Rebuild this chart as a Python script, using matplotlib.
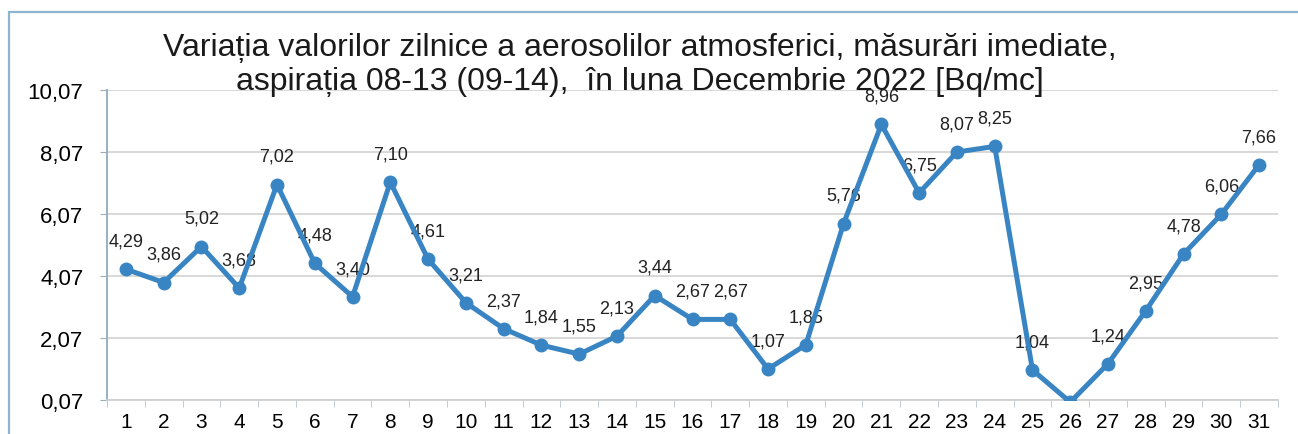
import matplotlib.pyplot as plt
from matplotlib.patches import Rectangle

plt.rcParams['font.family'] = ['Liberation Sans', 'DejaVu Sans']

# daily values, December 2022 [Bq/mc]
days = list(range(1, 32))
values = [4.29, 3.86, 5.02, 3.68, 7.02, 4.48, 3.40, 7.10, 4.61, 3.21,
          2.37, 1.84, 1.55, 2.13, 3.44, 2.67, 2.67, 1.07, 1.85, 5.76,
          8.96, 6.75, 8.07, 8.25, 1.04, 0.00, 1.24, 2.95, 4.78, 6.06, 7.66]
yticks = [0.07, 2.07, 4.07, 6.07, 8.07, 10.07]
title1 = 'Variația valorilor zilnice a aerosolilor atmosferici, măsurări imediate,'
title2 = 'aspirația 08-13 (09-14),  în luna Decembrie 2022 [Bq/mc]'

W, H = 1298, 435
fig = plt.figure(figsize=(W / 100, H / 100), dpi=100)
ax = fig.add_axes([107 / W, 1 - 401 / H, (1278 - 107) / W, (401 - 91) / H])

# outer frame of the chart area
fig.patches.append(Rectangle((9 / W, -0.05), 1.2, 1 - 13 / H + 0.05,
                             transform=fig.transFigure, fill=False,
                             edgecolor='#8cb6d0', linewidth=1.6, zorder=0))

col = '#3985c4'
ax.plot(days, values, color=col, linewidth=3.6, marker='o', markersize=9,
        markerfacecolor=col, markeredgecolor=col, zorder=3)

for d, v in zip(days, values):
    if v < yticks[0]:
        continue
    ax.annotate('{:.2f}'.format(v).replace('.', ','), (d, v),
                xytext=(0, 17), textcoords='offset points',
                ha='center', va='baseline', fontsize=13, color='#222222', zorder=2)

ax.set_xlim(0.5, 31.5)
ax.set_ylim(yticks[0], yticks[-1])
ax.set_yticks(yticks)
ax.set_yticklabels(['{:.2f}'.format(t).replace('.', ',') for t in yticks])
ax.set_xticks(days)
ax.set_xticks([d + 0.5 for d in range(0, 32)], minor=True)
ax.tick_params(axis='x', which='major', length=0, labelsize=15, pad=9)
ax.tick_params(axis='x', which='minor', length=5, color='#b8c0c8', direction='out')
ax.tick_params(axis='y', length=5, color='#a0acb6', labelsize=16, pad=12)
ax.grid(axis='y', color='#d6d6d6', linewidth=1.3)
ax.set_axisbelow(True)
for s in ['top', 'right']:
    ax.spines[s].set_visible(False)
ax.spines['left'].set_color('#98b0c4')
ax.spines['left'].set_linewidth(1.4)
ax.spines['bottom'].set_color('#d0d0d0')
ax.spines['bottom'].set_linewidth(1.3)

fig.text(640 / W, 1 - 56 / H, title1, ha='center', va='baseline',
         fontsize=23, color='#1a1a1a', zorder=10)
fig.text(640 / W, 1 - 90 / H, title2, ha='center', va='baseline',
         fontsize=23, color='#1a1a1a', zorder=10)

fig.savefig('out.png', dpi=100, facecolor='white')
